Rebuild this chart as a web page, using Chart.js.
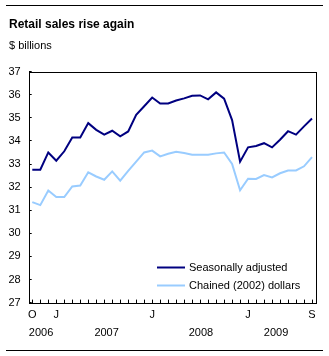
<!DOCTYPE html>
<html>
<head>
<meta charset="utf-8">
<script src="https://cdn.jsdelivr.net/npm/chart.js@4.4.0/dist/chart.umd.min.js"></script>
<style>
    html, body { margin: 0; padding: 0; background: #fff; }
    #grafico { display: block; }
</style>
</head>
<body>
<canvas id="grafico" width="329" height="356"></canvas>
<script>
// Oct 2006 .. Sep 2009, one letter per month
const months = ['O', 'N', 'D',
    'J', 'F', 'M', 'A', 'M', 'J', 'J', 'A', 'S', 'O', 'N', 'D',
    'J', 'F', 'M', 'A', 'M', 'J', 'J', 'A', 'S', 'O', 'N', 'D',
    'J', 'F', 'M', 'A', 'M', 'J', 'J', 'A', 'S'];
const labelledMonths = [0, 3, 15, 27, 35];
const years = ['2006', '2007', '2008', '2009'];
const yearTicks = [1.1, 9.3, 21.1, 30.5]; // month index under which each year sits

const seasonallyAdjusted = [32.75, 32.75, 33.5, 33.14, 33.55, 34.15, 34.15, 34.77, 34.48, 34.27, 34.44, 34.2,
    34.41, 35.13, 35.5, 35.88, 35.62, 35.62, 35.75, 35.84, 35.95, 35.97, 35.8, 36.1,
    35.83, 34.9, 33.1, 33.72, 33.78, 33.9, 33.72, 34.05, 34.42, 34.27, 34.63, 34.97];
const chained = [31.35, 31.22, 31.85, 31.57, 31.57, 32.03, 32.07, 32.64, 32.46, 32.32, 32.68, 32.28,
    32.7, 33.1, 33.5, 33.58, 33.33, 33.44, 33.53, 33.48, 33.4, 33.4, 33.4, 33.46,
    33.5, 33.0, 31.86, 32.36, 32.35, 32.52, 32.42, 32.6, 32.72, 32.72, 32.9, 33.3];
const seriesNames = ['Seasonally adjusted', 'Chained (2002) dollars'];
const yTicks = [27, 28, 29, 30, 31, 32, 33, 34, 35, 36, 37];

const fam = "'Liberation Sans', Arial, sans-serif";
const colores = ['#000080', '#99ccff'];

// frame round the plot, the two rules and the legend in the lower right
const marco = {
    id: 'marco',
    afterDraw(chart) {
        const ctx = chart.ctx;
        const a = chart.chartArea;
        ctx.save();
        ctx.strokeStyle = '#000';
        ctx.lineWidth = 1;
        const l = Math.round(a.left) + 0.5, t = Math.round(a.top) + 0.5;
        const r = Math.round(a.right) + 0.5, b = Math.round(a.bottom) + 0.5;
        ctx.strokeRect(l, t, r - l, b - t);

        ctx.beginPath();
        ctx.moveTo(6, 5.5); ctx.lineTo(323, 5.5);
        ctx.moveTo(6, 350.5); ctx.lineTo(323, 350.5);
        ctx.stroke();

        ctx.font = '11px ' + fam;
        ctx.textBaseline = 'middle';
        ctx.textAlign = 'left';
        chart.data.datasets.forEach((ds, i) => {
            const y = Math.round(a.bottom - 36 + i * 18.3) + 0.5;
            ctx.strokeStyle = ds.borderColor;
            ctx.lineWidth = 2;
            ctx.beginPath();
            ctx.moveTo(a.right - 159, y);
            ctx.lineTo(a.right - 131, y);
            ctx.stroke();
            ctx.fillStyle = '#000';
            ctx.fillText(ds.label, a.right - 127, y);
        });
        ctx.restore();
    }
};

const ctx = document.getElementById('grafico').getContext('2d');
const chart = new Chart(ctx, {
    type: 'line',
    data: {
        datasets: [
            {
                label: seriesNames[0],
                data: seasonallyAdjusted.map((v, i) => ({ x: i, y: v })),
                borderColor: colores[0],
                borderWidth: 2,
                pointRadius: 0,
                tension: 0
            },
            {
                label: seriesNames[1],
                data: chained.map((v, i) => ({ x: i, y: v })),
                borderColor: colores[1],
                borderWidth: 2,
                pointRadius: 0,
                tension: 0
            }
        ]
    },
    options: {
        responsive: false,
        devicePixelRatio: 1,
        animation: false,
        layout: { padding: { top: 10, left: 9, right: 13, bottom: 16 } },
        plugins: {
            legend: { display: false },
            tooltip: { enabled: false },
            title: {
                display: true,
                text: 'Retail sales rise again',
                align: 'start',
                color: '#000',
                font: { family: fam, size: 12, weight: 'bold' },
                padding: { top: 7, bottom: 7 }
            },
            subtitle: {
                display: true,
                text: '$ billions',
                align: 'start',
                color: '#000',
                font: { family: fam, size: 11, weight: 'normal' },
                padding: { top: 1, bottom: 19 }
            }
        },
        scales: {
            x: {
                type: 'linear',
                min: -0.45,
                max: 35.5,
                afterBuildTicks: s => { s.ticks = months.map((m, i) => ({ value: i })); },
                afterFit: s => { s.height = 19.2; },
                ticks: {
                    autoSkip: false,
                    maxRotation: 0,
                    padding: 9,
                    color: '#000',
                    font: { family: fam, size: 11 },
                    callback: v => labelledMonths.includes(v) ? months[v] : ''
                },
                grid: { drawOnChartArea: false, drawTicks: true, tickLength: -3, color: '#000' },
                border: { display: false }
            },
            years: {
                type: 'linear',
                position: 'bottom',
                min: -0.45,
                max: 35.5,
                afterBuildTicks: s => { s.ticks = yearTicks.map(v => ({ value: v })); },
                afterFit: s => { s.height = 18.2; },
                ticks: {
                    autoSkip: false,
                    maxRotation: 0,
                    padding: 5,
                    color: '#000',
                    font: { family: fam, size: 11 },
                    callback: (v, i) => years[i]
                },
                grid: { display: false, drawTicks: false },
                border: { display: false }
            },
            y: {
                min: 27,
                max: 37,
                afterBuildTicks: s => { s.ticks = yTicks.map(v => ({ value: v })); },
                afterFit: s => { s.width = 19.7; },
                ticks: {
                    padding: 11,
                    color: '#000',
                    font: { family: fam, size: 11 }
                },
                grid: { drawOnChartArea: false, drawTicks: true, tickLength: -3, color: '#000' },
                border: { display: false }
            }
        }
    },
    plugins: [marco]
});
</script>
</body>
</html>
